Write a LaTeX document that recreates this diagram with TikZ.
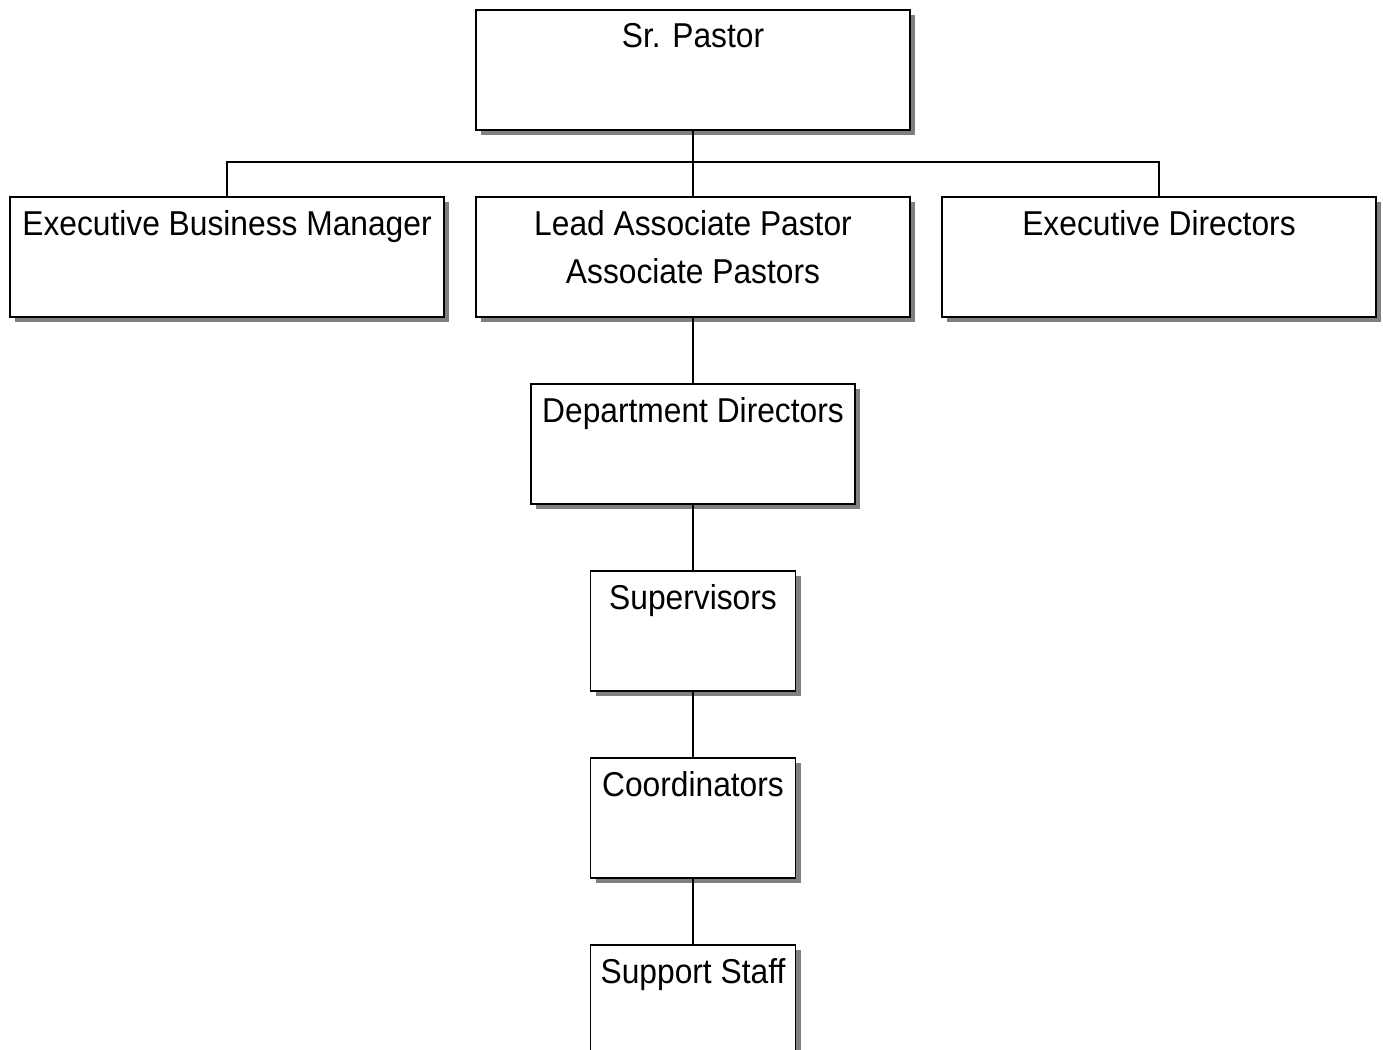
\documentclass[tikz,border=0pt]{standalone}
\usepackage{fontspec}
\setmainfont{Liberation Sans}[FakeStretch=0.92]
\usetikzlibrary{positioning,shadows}

\begin{document}
\begin{tikzpicture}[x=1pt, y=-1pt,
  post/.style={rectangle, draw, line width=1.5pt, fill=white, inner sep=0pt, outer sep=0pt,
    minimum width=434pt, text height=38pt, text depth=82pt,
    drop shadow={shadow xshift=5pt, shadow yshift=-5pt, fill=black!50, opacity=1}},
  link/.style={line width=1.4pt},
  node distance=67pt and 32pt]
  \fontsize{34.5}{48}\selectfont
  \useasboundingbox (0,0) rectangle (1383,1049);

  \node[post, anchor=north] (sp) at (693,10) {Sr. Pastor};
  \node[post, below=of sp, align=center, text height=86pt, text depth=34pt] (lap) {Lead Associate Pastor\\Associate Pastors};
  \node[post, left=of lap] (ebm) {Executive Business Manager};
  \node[post, right=of lap] (ed) {Executive Directors};
  \node[post, below=of lap, minimum width=324pt] (dd) {Department Directors};
  \node[post, below=of dd, minimum width=205pt] (sup) {Supervisors};
  \node[post, below=of sup, minimum width=205pt] (coo) {Coordinators};
  \node[post, below=of coo, minimum width=205pt] (ss) {Support Staff};
  \coordinate (bus) at (693,162);

  \draw[link] (sp) -- (lap);
  \draw[link] (ebm.north) |- (bus) -| (ed.north);
  \draw[link] (lap) -- (dd);
  \draw[link] (dd) -- (sup);
  \draw[link] (sup) -- (coo);
  \draw[link] (coo) -- (ss);

\end{tikzpicture}
\end{document}
